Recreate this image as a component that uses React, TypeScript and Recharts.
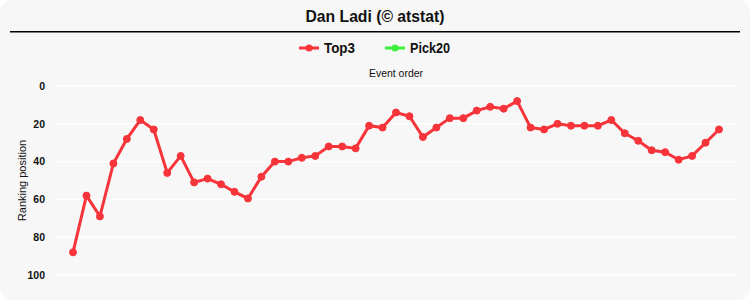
import React from "react";
import { LineChart, Line, XAxis, YAxis, CartesianGrid } from "recharts";

const eventIndex: number[] = Array.from({ length: 49 }, (_, i) => i + 1);
const top3: number[] = [
  88, 58, 69, 41, 28, 18, 23, 46, 37, 51, 49, 52, 56, 59.5, 48, 40, 40, 38, 37, 32,
  32, 33, 21, 22, 14, 16, 27, 22, 17, 17, 13, 11, 12, 8, 22, 23, 20, 21, 21, 21,
  18, 25, 29, 34, 35, 39, 37, 30, 23,
];
const pick20: (number | null)[] = eventIndex.map(() => null);
const yTicks: number[] = [0, 20, 40, 60, 80, 100];

const data = eventIndex.map((e, i) => ({ e, top3: top3[i], pick20: pick20[i] }));

const FONT = "'Liberation Sans', Arial, sans-serif";
const RED = "#f6343a";
const GREEN = "#3ef03e";

export default function App() {
  return (
    <div style={{ position: "absolute", left: 0, top: 0, width: 750, height: 300, background: "#fff" }}>
      <div
        style={{
          position: "absolute",
          left: 0,
          top: 0,
          width: 750,
          height: 300,
          background: "#f7f7f7",
          borderRadius: 12,
        }}
      />
      <svg width={750} height={90} style={{ position: "absolute", left: 0, top: 0 }}>
        <text x={375} y={22} textAnchor="middle" fontFamily={FONT} fontWeight="bold" fontSize={16.5} fill="#111"
          textLength={139} lengthAdjust="spacingAndGlyphs">
          Dan Ladi (© atstat)
        </text>
        <line x1={10} y1={31.7} x2={740} y2={31.7} stroke="#000" strokeWidth={1.6} />
        <line x1={299} y1={48} x2={319} y2={48} stroke={RED} strokeWidth={3} />
        <circle cx={309} cy={48} r={3.5} fill={RED} />
        <text x={324} y={53.3} fontFamily={FONT} fontWeight="bold" fontSize={14.5} fill="#111"
          textLength={31} lengthAdjust="spacingAndGlyphs">
          Top3
        </text>
        <line x1={385} y1={48} x2={405} y2={48} stroke={GREEN} strokeWidth={3} />
        <circle cx={395} cy={48} r={3.5} fill={GREEN} />
        <text x={410} y={53.3} fontFamily={FONT} fontWeight="bold" fontSize={14.5} fill="#111"
          textLength={40} lengthAdjust="spacingAndGlyphs">
          Pick20
        </text>
        <text x={396} y={76.7} textAnchor="middle" fontFamily={FONT} fontSize={11.5} fill="#111"
          textLength={54} lengthAdjust="spacingAndGlyphs">
          Event order
        </text>
      </svg>
      <div style={{ position: "absolute", left: 0, top: 0 }}>
        <LineChart width={750} height={300} data={data} margin={{ top: 86, right: 14, bottom: 25, left: 0 }}>
          <CartesianGrid horizontal={true} vertical={false} stroke="#ffffff" strokeWidth={1.5} />
          <XAxis
            dataKey="e"
            type="number"
            domain={[1, 49]}
            padding={{ left: 18, right: 17 }}
            hide
          />
          <YAxis
            width={55}
            reversed
            domain={[0, 100]}
            ticks={yTicks}
            axisLine={false}
            tickLine={false}
            tickMargin={4}
            tick={{ fontFamily: FONT, fontWeight: "bold", fontSize: 10.5, fill: "#111" }}
            label={{
              value: "Ranking position",
              angle: -90,
              position: "insideLeft",
              offset: 22,
              style: { fontFamily: FONT, fontSize: 11, fill: "#111", textAnchor: "middle" },
            }}
          />
          <Line
            dataKey="top3"
            stroke={RED}
            strokeWidth={3}
            dot={{ r: 3.5, fill: RED, stroke: RED, strokeWidth: 1 }}
            isAnimationActive={false}
            type="linear"
          />
          <Line
            dataKey="pick20"
            stroke={GREEN}
            strokeWidth={3}
            dot={false}
            isAnimationActive={false}
            connectNulls={false}
          />
        </LineChart>
      </div>
    </div>
  );
}
